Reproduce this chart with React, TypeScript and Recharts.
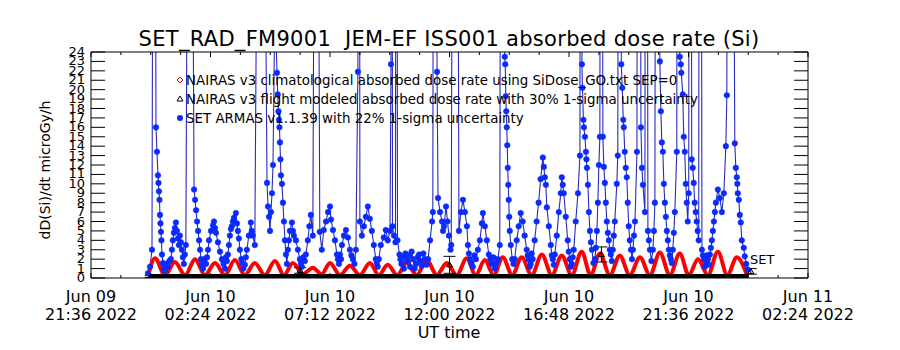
import React from 'react';
import { ComposedChart, Line, Scatter, XAxis, YAxis, ErrorBar } from 'recharts';

const FONT = '"DejaVu Sans", sans-serif';

// x axis: UT hours relative to Jun 10 00:00
const xTickValues = [-2.4, -1.2, 0, 1.2, 2.4, 3.6, 4.8, 6, 7.2, 8.4, 9.6, 10.8, 12, 13.2, 14.4, 15.6, 16.8, 18, 19.2, 20.4, 21.6, 22.8, 24, 25.2, 26.4];
const xMajorValues = [-2.4, 2.4, 7.2, 12, 16.8, 21.6, 26.4];
const xMajorDates = ['Jun 09', 'Jun 10', 'Jun 10', 'Jun 10', 'Jun 10', 'Jun 10', 'Jun 11'];
const xMajorTimes = ['21:36 2022', '02:24 2022', '07:12 2022', '12:00 2022', '16:48 2022', '21:36 2022', '02:24 2022'];
const yTickValues = [0, 1, 2, 3, 4, 5, 6, 7, 8, 9, 10, 11, 12, 13, 14, 15, 16, 17, 18, 19, 20, 21, 22, 23, 24];

const titleText = 'SET_RAD_FM9001  JEM-EF ISS001 absorbed dose rate (Si)';
const yAxisTitle = 'dD(Si)/dt microGy/h';
const xAxisTitle = 'UT time';
const legendLabels = [
  'NAIRAS v3 climatological absorbed dose rate using SiDose_GO.txt SEP=0',
  'NAIRAS v3 flight modeled absorbed dose rate with 30% 1-sigma uncertainty',
  'SET ARMAS v1.1.39 with 22% 1-sigma uncertainty',
];

// NAIRAS v3 climatological (t, dose)
const nairasClimo: [number, number][] = [
  [-0.10, 0.3], [0.17, 2.1], [0.57, 0.3], [0.97, 1.7], [1.38, 0.3], [1.78, 2.0], [2.18, 0.3], [2.58, 1.6],
  [2.98, 0.3], [3.38, 1.9], [3.78, 0.3], [4.18, 1.6], [4.58, 0.3], [4.99, 1.8], [5.35, 0.3], [5.71, 1.6],
  [6.11, 0.4], [6.51, 1.1], [6.86, 0.4], [7.20, 1.6], [7.60, 0.3], [8.00, 1.3], [8.40, 0.3], [8.80, 1.6],
  [9.16, 0.3], [9.52, 1.4], [9.90, 0.3], [10.28, 1.6], [10.68, 0.3], [11.09, 1.9], [11.49, 0.3], [11.89, 1.6],
  [12.29, 0.3], [12.69, 2.1], [13.05, 0.3], [13.42, 1.9], [13.78, 0.3], [14.14, 2.2], [14.52, 0.3], [14.90, 2.2],
  [15.30, 0.3], [15.71, 2.5], [16.11, 0.3], [16.51, 2.4], [16.91, 0.3], [17.31, 2.8], [17.67, 0.3], [18.04, 2.6],
  [18.44, 0.3], [18.84, 2.4], [19.24, 0.3], [19.65, 2.2], [20.05, 0.3], [20.45, 2.7], [20.85, 0.3], [21.25, 2.6],
  [21.61, 0.3], [21.98, 2.0], [22.38, 0.3], [22.78, 2.8], [23.16, 0.3], [23.54, 2.2], [23.95, 0.3],
];

// NAIRAS v3 flight modeled (t, dose, 1-sigma)
const flightModel: [number, number, number][] = [
  [0.0, 0.15, 0.1], [6.0, 0.8, 0.3], [12.0, 1.4, 0.9], [18.1, 2.5, 0.8], [24.1, 0.7, 0.3],
];
const flightBand: [number, number][] = [[-0.1, 0], [24.0, 0]];

// SET ARMAS (t, dose)
const armasDose: [number, number][] = [
  [-0.11, 0.5], [-0.03, 1.2], [0.05, 3], [0.13, 100], [0.21, 16], [0.25, 13.4], [0.29, 10.9], [0.31, 10.1], [0.33, 9.2], [0.35, 8.3],
  [0.37, 6.7], [0.39, 5.8], [0.41, 4.9], [0.43, 4.0], [0.45, 2.5], [0.49, 1.6], [0.53, 1.0], [0.57, 0.8], [0.63, 1.5], [0.69, 1.2], [0.75, 1.8], [0.81, 2.0], [0.85, 3.0],
  [0.89, 4.0], [0.93, 4.8], [0.97, 5.3], [1.01, 5.9], [1.05, 5.0], [1.09, 4.2], [1.13, 3.5], [1.17, 4.5], [1.21, 3.8], [1.25, 3.0],
  [1.29, 2.2], [1.33, 1.5], [1.37, 2.5], [1.41, 3.5], [1.57, 100], [1.74, 9.4], [1.78, 8.3], [1.82, 7.2], [1.86, 6.0], [1.90, 5.0],
  [1.94, 4.0], [1.98, 3.0], [2.02, 2.0], [2.06, 1.4], [2.10, 1.0], [2.16, 2.0], [2.22, 1.5], [2.26, 2.2], [2.30, 3.0], [2.34, 4.0], [2.42, 5.0], [2.50, 5.6], [2.54, 6.0],
  [2.58, 5.3], [2.62, 4.8], [2.70, 3.8], [2.78, 2.8], [2.86, 2.0], [2.92, 1.5], [2.98, 1.0], [3.02, 2.2], [3.06, 1.8], [3.10, 2.5], [3.14, 3.5], [3.18, 4.5],
  [3.22, 5.2], [3.26, 5.5], [3.30, 6.0], [3.34, 6.4], [3.42, 6.9], [3.46, 5.8], [3.50, 5.0], [3.54, 4.2], [3.58, 3.0], [3.64, 2.0],
  [3.68, 1.6], [3.72, 1.0], [3.78, 1.4], [3.82, 2.2], [3.86, 3.0], [3.94, 4.5], [4.02, 5.9], [4.06, 5.0], [4.10, 4.5], [4.18, 3.5], [4.42, 100], [4.67, 10.1],
  [4.71, 7.6], [4.75, 6.5], [4.79, 5.0], [4.83, 7.0], [4.87, 9.0], [4.91, 12.0], [4.99, 30], [5.07, 21.8], [5.10, 19.5], [5.13, 17.7],
  [5.15, 16.8], [5.17, 16.0], [5.19, 14.4], [5.21, 12.6], [5.23, 10.9], [5.27, 10.0], [5.31, 8.0], [5.35, 6.0], [5.39, 4.0], [5.43, 2.5],
  [5.47, 1.5], [5.51, 3.0], [5.55, 4.0], [5.59, 5.0], [5.67, 5.9], [5.71, 5.0], [5.75, 4.5], [5.83, 4.0], [5.91, 3.0], [5.99, 2.0],
  [6.03, 1.5], [6.07, 1.2], [6.13, 2.2], [6.19, 1.8], [6.23, 2.5], [6.31, 4.0], [6.37, 5.5], [6.43, 6.7], [6.51, 4.5], [6.65, 100], [6.79, 4.9], [6.87, 3.0],
  [6.95, 5.1], [7.04, 6.0], [7.12, 7.0], [7.20, 7.6], [7.24, 6.2], [7.32, 5.1], [7.40, 4.0], [7.48, 2.5], [7.52, 2.0], [7.56, 1.5], [7.60, 2.5], [7.64, 2.0],
  [7.68, 3.5], [7.76, 4.5], [7.84, 5.1], [7.92, 4.3], [8.00, 3.0], [8.06, 2.4], [8.12, 2.0], [8.18, 1.5], [8.24, 3.0], [8.32, 21.9], [8.36, 150], [8.40, 6.0],
  [8.48, 4.5], [8.56, 5.5], [8.64, 6.5], [8.72, 7.6], [8.80, 6.3], [8.88, 5.0], [8.96, 3.5], [9.04, 2.0], [9.08, 1.6], [9.12, 1.2], [9.16, 2.0],
  [9.24, 3.5], [9.36, 4.3], [9.44, 5.1], [9.52, 4.0], [9.61, 5.0], [9.65, 22.7], [9.67, 150], [9.71, 5.5], [9.77, 4.5], [9.83, 3.8],
  [9.87, 150], [9.91, 4.0], [9.99, 2.5], [10.03, 2.0], [10.07, 1.5], [10.12, 2.2], [10.17, 1.0], [10.23, 2.6], [10.30, 1.8], [10.36, 2.4], [10.42, 1.2], [10.48, 2.8], [10.54, 2.0], [10.60, 1.0], [10.66, 1.5], [10.72, 2.2], [10.78, 2.5],
  [10.83, 1.8], [10.89, 1.3], [10.95, 2.6], [11.01, 2.0], [11.08, 1.4], [11.14, 2.0], [11.22, 4.0], [11.30, 6.0], [11.33, 7.0], [11.40, 150], [11.50, 21.9], [11.54, 8.5], [11.62, 7.0],
  [11.70, 6.0], [11.74, 5.0], [11.78, 5.5], [11.86, 7.6], [11.92, 6.0], [11.98, 4.5], [12.04, 3.0], [12.07, 3.5], [12.22, 150], [12.38, 5.0],
  [12.46, 7.0], [12.54, 8.3], [12.62, 7.0], [12.70, 5.5], [12.74, 3.5], [12.78, 2.6], [12.82, 2.0], [12.88, 1.6], [12.94, 1.2], [13.00, 2.4], [13.06, 2.0], [13.14, 3.0], [13.22, 4.0],
  [13.30, 5.8], [13.34, 6.9], [13.42, 5.5], [13.50, 4.0], [13.58, 2.5], [13.64, 2.0], [13.70, 1.5], [13.76, 2.2], [13.82, 1.0], [13.88, 1.6], [13.94, 2.0], [14.02, 3.5], [14.12, 150],
  [14.22, 23.5], [14.24, 22.7], [14.26, 19.3], [14.28, 17.7], [14.30, 16.0], [14.32, 14.1], [14.34, 11.7], [14.36, 9.9], [14.38, 8.3], [14.40, 6.5],
  [14.42, 5.0], [14.46, 3.5], [14.52, 2.0], [14.57, 1.5], [14.62, 2.0], [14.70, 4.0], [14.78, 5.5], [14.86, 6.9], [14.94, 6.0], [15.02, 4.5], [15.10, 3.0],
  [15.14, 2.4], [15.18, 2.0], [15.22, 1.2], [15.26, 1.5], [15.30, 2.6], [15.34, 2.0], [15.42, 4.0], [15.50, 6.0], [15.58, 8.0], [15.66, 10.5], [15.75, 12.8], [15.79, 11.8], [15.83, 10.7],
  [15.87, 9.9], [15.91, 7.5], [15.99, 5.5], [16.07, 3.5], [16.11, 2.4], [16.15, 2.0], [16.19, 1.4], [16.23, 2.5], [16.31, 4.5], [16.39, 7.0], [16.47, 9.0], [16.51, 10.7],
  [16.55, 9.9], [16.59, 9.0], [16.67, 6.5], [16.75, 4.0], [16.79, 2.8], [16.83, 2.0], [16.87, 1.2], [16.91, 1.5], [16.95, 2.2], [16.99, 3.0], [17.07, 6.0], [17.16, 9.0], [17.24, 13.0],
  [17.28, 150], [17.32, 22.7], [17.34, 20.2], [17.38, 16.8], [17.40, 16.0], [17.44, 15.0], [17.48, 13.4], [17.50, 12.6], [17.52, 11.7], [17.56, 9.9],
  [17.60, 7.0], [17.64, 5.0], [17.68, 3.8], [17.72, 3.0], [17.78, 1.6], [17.84, 2.0], [17.88, 3.2], [17.92, 5.0], [17.96, 8.0], [18.00, 12.0], [18.04, 15.0], [18.10, 150], [18.16, 15.0],
  [18.20, 11.8], [18.24, 10.1], [18.28, 8.0], [18.32, 6.0], [18.36, 4.8], [18.40, 4.0], [18.44, 3.0], [18.48, 2.5], [18.52, 1.8], [18.56, 3.0], [18.60, 4.5], [18.64, 6.0], [18.72, 10.0], [18.76, 13.0],
  [18.84, 150], [18.90, 22.7], [18.94, 20.2], [18.98, 16.8], [19.00, 16.0], [19.04, 13.4], [19.08, 11.7], [19.12, 10.7], [19.16, 8.0], [19.20, 5.5],
  [19.24, 4.0], [19.29, 3.0], [19.33, 2.0], [19.37, 3.0], [19.41, 4.5], [19.45, 6.0], [19.53, 13.4], [19.57, 150], [19.69, 16.0], [19.73, 11.7], [19.77, 9.9], [19.85, 7.0], [19.89, 150],
  [19.97, 5.0], [20.01, 4.0], [20.05, 3.0], [20.11, 1.8], [20.17, 3.0], [20.21, 5.0], [20.25, 8.0], [20.33, 150], [20.45, 23.0], [20.49, 17.7], [20.53, 14.4], [20.57, 13.4], [20.61, 10.0],
  [20.65, 8.0], [20.69, 6.5], [20.73, 5.0], [20.77, 4.0], [20.81, 3.0], [20.85, 2.4], [20.89, 2.0], [20.93, 1.6], [20.97, 3.0], [21.01, 4.8], [21.05, 7.0], [21.13, 13.4], [21.17, 150], [21.25, 23.5], [21.29, 22.7],
  [21.31, 21.8], [21.37, 19.5], [21.41, 15.0], [21.45, 13.4], [21.49, 10.0], [21.53, 8.0], [21.57, 6.0], [21.61, 9.0], [21.65, 150], [21.73, 12.6],
  [21.77, 11.7], [21.81, 10.1], [21.85, 8.0], [21.89, 7.0], [21.93, 6.0], [21.97, 5.0], [22.01, 4.0], [22.06, 150], [22.14, 3.0], [22.18, 2.4], [22.22, 2.0], [22.26, 1.2], [22.30, 1.5], [22.34, 2.4], [22.38, 2.0],
  [22.42, 1.4], [22.46, 2.5], [22.50, 3.2], [22.54, 4.0], [22.58, 5.0], [22.62, 6.0], [22.66, 7.0], [22.70, 8.0], [22.78, 9.4], [22.86, 8.5], [22.94, 7.0], [23.02, 9.0], [23.10, 14.0], [23.14, 19.4],
  [23.22, 150], [23.46, 14.3], [23.50, 11.7], [23.54, 10.7], [23.56, 10.0], [23.58, 9.0], [23.62, 8.3], [23.66, 6.7], [23.70, 5.9], [23.74, 4.0],
  [23.82, 3.2], [23.86, 2.3], [23.92, 1.5], [23.98, 0.9],
];

const climoRows = nairasClimo.map(([t, v]) => ({ t, v }));
const armasRows = armasDose.map(([t, v]) => ({ t, v }));
const flightRows = flightModel.map(([t, v, err]) => ({ t, v, err }));
const bandRows = flightBand.map(([t, v]) => ({ t, v }));

const majorIndex = (v: number) => xMajorValues.findIndex((m) => Math.abs(m - v) < 1e-6);

const BottomTick = (props: any) => {
  const { x, y, payload } = props;
  const mi = majorIndex(payload.value);
  return (
    <g>
      <line x1={x} y1={y} x2={x} y2={y - (mi >= 0 ? 5 : 3)} stroke="#000" strokeWidth={1} />
      {mi >= 0 && (
        <text x={x} y={y + 24} textAnchor="middle" fontSize={16} fontFamily={FONT} fill="#000">
          {xMajorDates[mi]}
        </text>
      )}
      {mi >= 0 && (
        <text x={x} y={y + 42} textAnchor="middle" fontSize={16} fontFamily={FONT} fill="#000">
          {xMajorTimes[mi]}
        </text>
      )}
    </g>
  );
};

const TopTick = (props: any) => {
  const { x, y, payload } = props;
  const mi = majorIndex(payload.value);
  return <line x1={x} y1={y} x2={x} y2={y + (mi >= 0 ? 5 : 3)} stroke="#000" strokeWidth={1} />;
};

const LeftTick = (props: any) => {
  const { x, y, payload } = props;
  return (
    <g>
      <line x1={x} y1={y} x2={x + 14} y2={y} stroke="#000" strokeWidth={1} />
      <text x={x - 6} y={y + 4} textAnchor="end" fontSize={13} fontFamily={FONT} fill="#000">
        {payload.value}
      </text>
    </g>
  );
};

const RightTick = (props: any) => {
  const { x, y } = props;
  return <line x1={x} y1={y} x2={x - 14} y2={y} stroke="#000" strokeWidth={1} />;
};

const Triangle = (props: any) => {
  const { cx, cy } = props;
  if (cx == null || cy == null) return null;
  return <path d={`M${cx},${cy - 3} L${cx + 3},${cy + 2} L${cx - 3},${cy + 2} Z`} fill="none" stroke="#000" strokeWidth={1} />;
};

export default function App() {
  return (
    <div style={{ position: 'absolute', left: 0, top: 0, width: 900, height: 350, background: '#fff', overflow: 'hidden' }}>
      <ComposedChart width={900} height={350} margin={{ top: 42, right: 72, bottom: 42, left: 51 }}>
        <XAxis
          xAxisId="b"
          dataKey="t"
          type="number"
          domain={[-2.4, 26.4]}
          ticks={xTickValues}
          interval={0}
          allowDataOverflow
          height={30}
          tickSize={0}
          tickMargin={0}
          tickLine={false}
          axisLine={{ stroke: '#000', strokeWidth: 1 }}
          tick={<BottomTick />}
        />
        <XAxis
          xAxisId="top"
          orientation="top"
          dataKey="t"
          type="number"
          domain={[-2.4, 26.4]}
          ticks={xTickValues}
          interval={0}
          allowDataOverflow
          height={10}
          tickSize={0}
          tickMargin={0}
          tickLine={false}
          axisLine={{ stroke: '#000', strokeWidth: 1 }}
          tick={<TopTick />}
        />
        <YAxis
          yAxisId="l"
          type="number"
          domain={[0, 24]}
          ticks={yTickValues}
          interval={0}
          allowDataOverflow
          width={40}
          tickSize={0}
          tickMargin={0}
          tickLine={false}
          axisLine={{ stroke: '#000', strokeWidth: 1 }}
          tick={<LeftTick />}
        />
        <YAxis
          yAxisId="r"
          orientation="right"
          type="number"
          domain={[0, 24]}
          ticks={yTickValues}
          interval={0}
          allowDataOverflow
          width={20}
          tickSize={0}
          tickMargin={0}
          tickLine={false}
          axisLine={{ stroke: '#000', strokeWidth: 1 }}
          tick={<RightTick />}
        />
        <Line
          xAxisId="b"
          yAxisId="l"
          data={armasRows}
          dataKey="v"
          type="linear"
          stroke="#2a2ac0"
          strokeWidth={1.1}
          dot={{ r: 2.8, fill: '#0a2aff', stroke: '#0a2aff', strokeWidth: 0.5 }}
          isAnimationActive={false}
        />
        <Line
          xAxisId="b"
          yAxisId="l"
          data={climoRows}
          dataKey="v"
          type="monotone"
          stroke="#ff0000"
          strokeWidth={4}
          dot={false}
          isAnimationActive={false}
        />
        <Line
          xAxisId="b"
          yAxisId="l"
          data={bandRows}
          dataKey="v"
          type="linear"
          stroke="#000"
          strokeWidth={8}
          dot={false}
          isAnimationActive={false}
        />
        <Scatter
          xAxisId="b"
          yAxisId="l"
          data={flightRows}
          dataKey="v"
          fill="none"
          shape={<Triangle />}
          isAnimationActive={false}
        >
          <ErrorBar dataKey="err" direction="y" width={6} stroke="#000" strokeWidth={1} />
        </Scatter>
      </ComposedChart>
      <svg width={900} height={350} style={{ position: 'absolute', left: 0, top: 0, pointerEvents: 'none' }}>
        <text x={449} y={46} textAnchor="middle" fontSize={21} letterSpacing={0.3} fontFamily={FONT} fill="#000" xmlSpace="preserve">
          {titleText}
        </text>
        <text x={0} y={0} transform="translate(50,170) rotate(-90)" textAnchor="middle" fontSize={14} fontFamily={FONT} fill="#000">
          {yAxisTitle}
        </text>
        <text x={449} y={338} textAnchor="middle" fontSize={16} fontFamily={FONT} fill="#000">
          {xAxisTitle}
        </text>
        <path d="M180,77 L183,80 L180,83 L177,80 Z" fill="none" stroke="#e00000" strokeWidth={1} />
        <path d="M180,96 L183,101 L177,101 Z" fill="none" stroke="#000" strokeWidth={1} />
        <circle cx={180} cy={118} r={3} fill="#0a2aff" />
        <text x={186} y={84.5} fontSize={13.4} fontFamily={FONT} fill="#000">{legendLabels[0]}</text>
        <text x={186} y={103.5} fontSize={13.4} fontFamily={FONT} fill="#000">{legendLabels[1]}</text>
        <text x={186} y={122.5} fontSize={13.4} fontFamily={FONT} fill="#000">{legendLabels[2]}</text>
        <text x={750} y={264} fontSize={13} fontFamily={FONT} fill="#000">SET</text>
      </svg>
    </div>
  );
}
